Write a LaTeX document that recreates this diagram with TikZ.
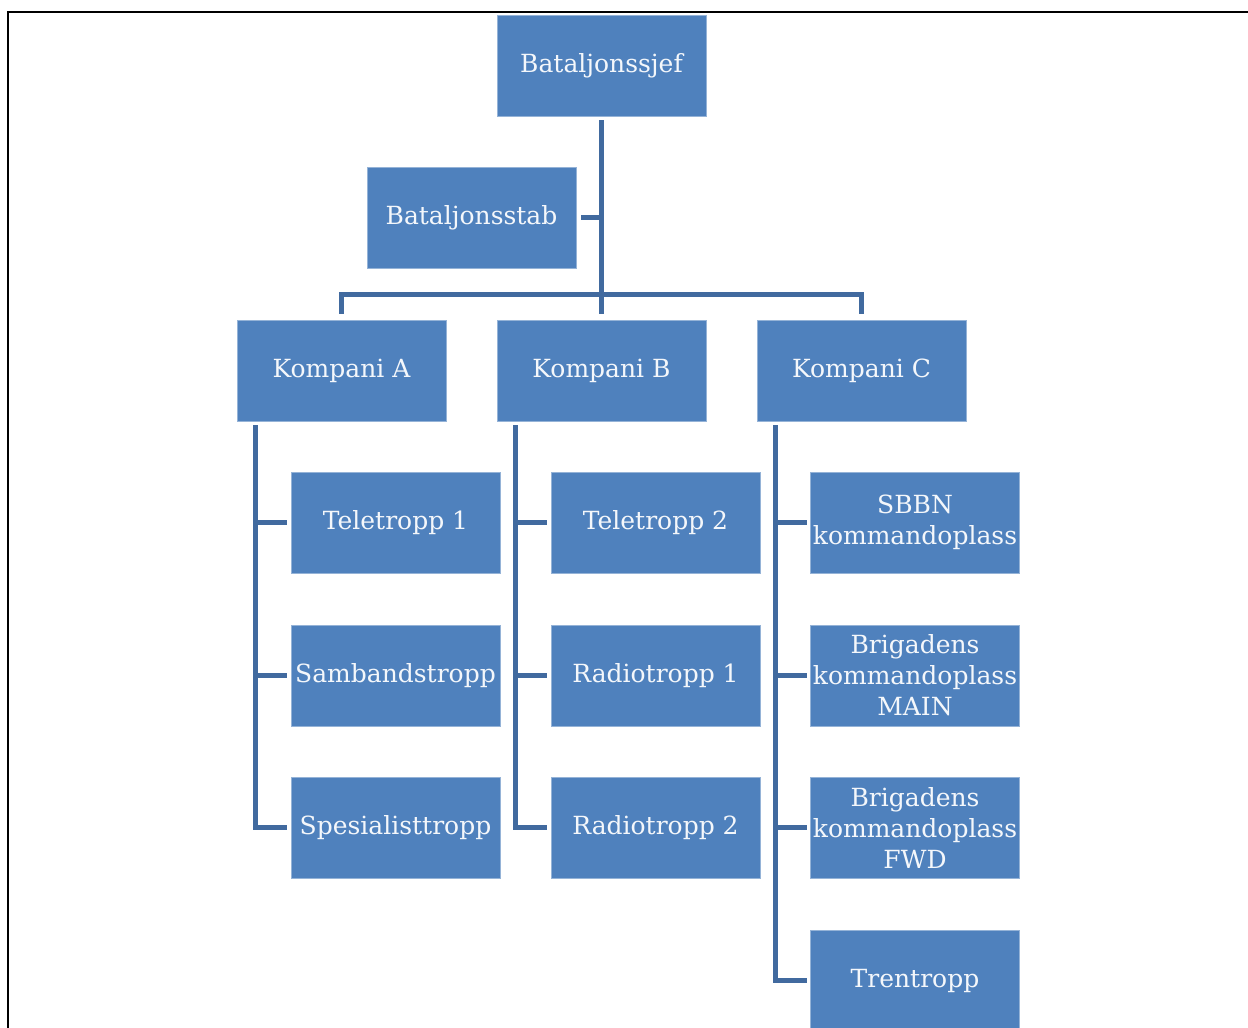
\documentclass[tikz,border=0pt]{standalone}
\usepackage{fontspec}
\setmainfont{DejaVu Serif}
\definecolor{boxblue}{HTML}{4F81BD}
\definecolor{lineblue}{HTML}{416A9F}
\definecolor{boxtext}{HTML}{F4F7FB}
\tikzset{
  unit/.style={fill=boxblue, draw=boxblue!60!white, line width=0.6pt, text=boxtext,
    minimum width=209pt, minimum height=101pt, inner sep=0pt, align=center,
    font=\fontsize{25}{31}\selectfont},
  link/.style={draw=lineblue, line width=5.5pt, line cap=rect}
}
\begin{document}
\begin{tikzpicture}[x=1pt,y=-1pt]
  \useasboundingbox (0,0) rectangle (1248,1028);
  \begin{scope}
    \clip (0,0) rectangle (1248,1028);
    \draw[line width=2.8pt] (8,1040) -- (8,12) -- (1260,12);
    % top
    \node[unit] (sjef) at (601.5,65.5) {Bataljonssjef};
    \node[unit] (stab) at (471.5,217.5) {Bataljonsstab};
    % kompanier
    \node[unit] (ka) at (341.5,370.5) {Kompani A};
    \node[unit] (kb) at (601.5,370.5) {Kompani B};
    \node[unit] (kc) at (861.5,370.5) {Kompani C};
    % tropper
    \node[unit] (a1) at (395.5,522.5) {Teletropp 1};
    \node[unit] (a2) at (395.5,675.5) {Sambandstropp};
    \node[unit] (a3) at (395.5,827.5) {Spesialisttropp};
    \node[unit] (b1) at (655.5,522.5) {Teletropp 2};
    \node[unit] (b2) at (655.5,675.5) {Radiotropp 1};
    \node[unit] (b3) at (655.5,827.5) {Radiotropp 2};
    \node[unit] (c1) at (915,522.5) {SBBN\\kommandoplass};
    \node[unit] (c2) at (915,675.5) {Brigadens\\kommandoplass\\MAIN};
    \node[unit] (c3) at (915,827.5) {Brigadens\\kommandoplass\\FWD};
    \node[unit] (c4) at (915,980.5) {Trentropp};
    % lines
    \coordinate (bar) at ([yshift=25pt]kb.north);
    \draw[link] ([yshift=-6pt]sjef.south) -- ([yshift=8pt]kb.north);
    \draw[link] ([xshift=7pt]stab.east) -- (stab.east -| sjef.south);
    \draw[link] ([yshift=8pt]ka.north) |- (bar) -| ([yshift=8pt]kc.north);
    \foreach \k/\t in {ka/a, kb/b} {
      \coordinate (\k top) at ([xshift=19pt,yshift=-6pt]\k.south west);
      \draw[link] (\k top) |- ([xshift=-6pt]\t3.west);
      \draw[link] ([xshift=-6pt]\t1.west) -- (\t1.west -| \k top);
      \draw[link] ([xshift=-6pt]\t2.west) -- (\t2.west -| \k top);
    }
    \coordinate (kctop) at ([xshift=19pt,yshift=-6pt]kc.south west);
    \draw[link] (kctop) |- ([xshift=-6pt]c4.west);
    \foreach \t in {c1,c2,c3}
      \draw[link] ([xshift=-6pt]\t.west) -- (\t.west -| kctop);
  \end{scope}
\end{tikzpicture}
\end{document}
